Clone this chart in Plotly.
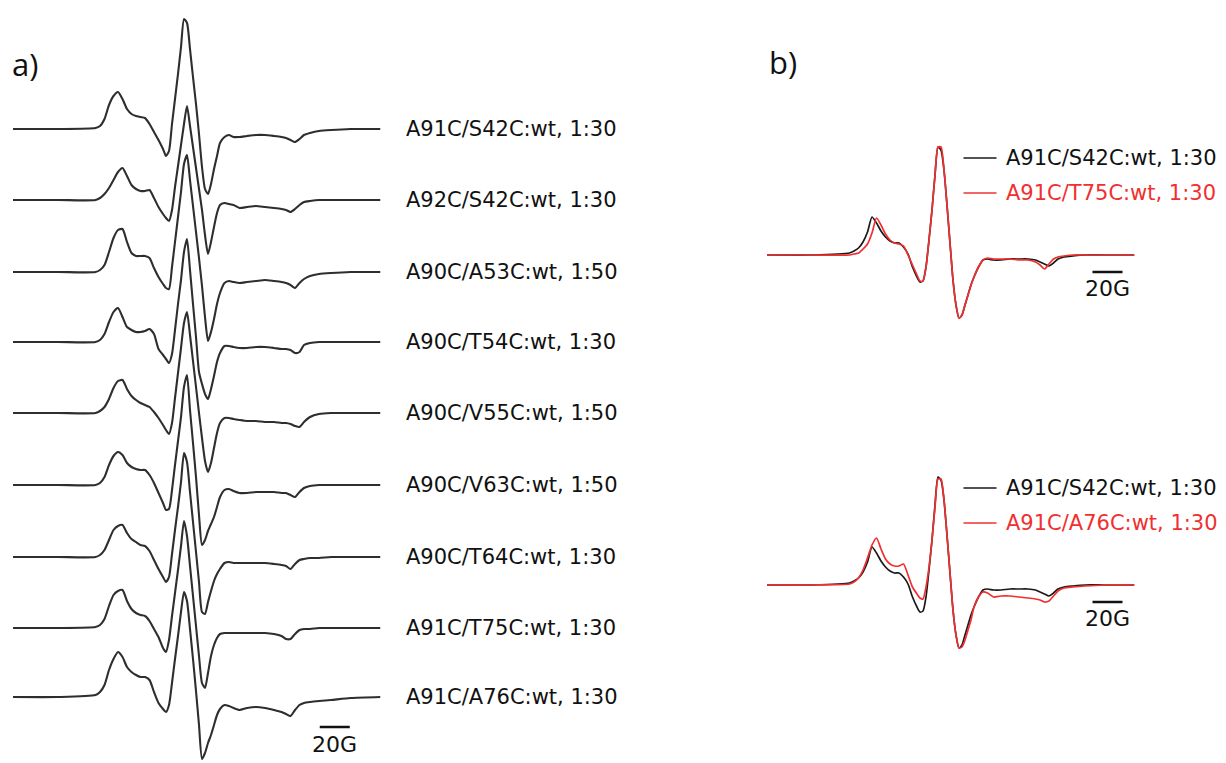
import plotly.graph_objects as go

# Magnetic field positions (G, relative) at which the spectra were read
field_G = [0, 30, 55, 58, 61, 64, 67, 70, 73, 76, 79, 82, 85, 88, 91, 94, 97, 100, 102, 104,
           106, 108, 110, 112, 114, 116, 118, 120, 122, 124, 126, 128, 130, 132, 134, 136, 138,
           141, 144, 147, 151, 156, 162, 168, 174, 179, 182, 185, 188, 191, 194, 198, 204, 212,
           225, 245]

# Panel a) spectra (arbitrary intensity units)
A91C_S42C = [0,0,1,3,10,24,33,37,30,20, 15,13,12,11,5,-3,-11,-20,-27,-22, 5,30,55,82,110,106,80,52,25,-5,
             -38,-60,-65,-55,-40,-27,-14,-8,-6,-8, -8,-7,-6,-6,-7,-8,-9,-11,-13,-10, -6,-4,-2,-1,0,0]
A92C_S42C = [0,0,0,2,6,12,20,28,32,24, 15,11,9,9,10,2,-7,-14,-18,-21, -10,13,34,55,76,94,74,53,32,11,
             -10,-35,-54,-42,-27,-13,-5,-3,-4,-5, -8,-7,-6,-7,-8,-9,-10,-12,-9,-5, -2,-1,0,0,0,0]
A90C_A53C = [0,0,0,2,7,20,34,42,43,30, 19,16,16,16,14,4,-5,-12,-16,-17, 5,30,55,80,108,117,92,66,40,14,
             -14,-45,-69,-60,-47,-32,-21,-11,-9,-10, -11,-10,-9,-8,-9,-10,-11,-13,-16,-11, -7,-4,-2,-1,0,0]
A90C_T54C = [0,0,0,2,8,20,30,34,25,15, 12,10,10,11,13,8,-7,-13,-17,-21, -12,12,38,62,90,103,72,38,5,-30,
             -42,-52,-57,-47,-34,-20,-11,-4,-4,-5, -6,-6,-5,-5,-6,-7,-7,-8,-11,-10, -3,-1,0,0,0,0]
A90C_V55C = [0,0,0,2,6,14,25,32,33,24, 17,13,10,8,6,1,-5,-12,-17,-21, -10,15,40,65,90,101,78,52,26,0,
             -25,-48,-59,-50,-35,-20,-10,-5,-5,-6, -7,-8,-8,-9,-9,-10,-10,-11,-13,-14, -9,-4,-1,0,0,0]
A90C_V63C = [0,0,0,2,8,20,29,33,30,22, 18,16,15,15,10,2,-8,-18,-25,-24, -5,20,44,68,98,110,75,42,8,-30,
             -60,-55,-46,-39,-32,-22,-12,-5,-4,-6, -8,-8,-7,-7,-7,-8,-8,-10,-12,-7, -3,-1,0,0,0,0]
A90C_T64C = [0,0,0,2,7,17,27,31,32,24, 18,15,12,11,6,-3,-12,-20,-25,-20, 3,27,50,75,104,95,65,35,5,-25,
             -55,-57,-45,-34,-24,-17,-12,-6,-5,-6, -6,-6,-6,-6,-7,-8,-9,-12,-7,-3, -2,-1,-1,0,0,0]
A91C_T75C = [0,0,1,3,9,22,33,37,38,27, 19,15,13,12,7,-1,-9,-20,-24,-12, 12,35,58,82,107,92,62,32,2,-28,
             -55,-60,-45,-28,-17,-10,-6,-5,-5,-5, -5,-5,-5,-5,-6,-8,-11,-11,-6,-2, -1,-1,0,0,0,0]
A91C_A76C = [0,0,2,5,12,27,38,45,40,30, 25,22,20,20,17,5,-6,-12,-15,-8, 14,38,61,85,105,96,68,38,6,-28,
             -62,-56,-46,-38,-28,-18,-12,-8,-9,-11, -13,-11,-10,-11,-13,-15,-17,-19,-13,-8, -6,-5,-4,-3,-1,0]

labels_a = ["A91C/S42C:wt, 1:30", "A92C/S42C:wt, 1:30", "A90C/A53C:wt, 1:50",
            "A90C/T54C:wt, 1:30", "A90C/V55C:wt, 1:50", "A90C/V63C:wt, 1:50",
            "A90C/T64C:wt, 1:30", "A91C/T75C:wt, 1:30", "A91C/A76C:wt, 1:30"]

# Panel b) overlays
b_S42C = [0,0,2,4,7,13,23,38,32,24, 18,14,12,12,8,1,-12,-22,-27,-26, -12,15,45,80,108,105,85,50,12,-25,
          -50,-63,-60,-50,-40,-30,-22,-12,-5,-4, -5,-5,-4,-4,-4,-5,-7,-9,-11,-8, -4,-2,-1,0,0,0]
b_T75C = [0,0,0,1,2,6,11,22,37,30, 21,15,12,11,9,0,-10,-20,-26,-26, -12,15,45,80,108,108,85,50,12,-25,
          -50,-63,-60,-50,-40,-30,-22,-12,-5,-3, -4,-4,-4,-5,-5,-7,-10,-14,-9,-4, -2,-1,0,0,0,0]
b_A76C = [0,0,1,3,7,15,27,40,47,36, 26,21,19,19,21,10,-2,-9,-13,-14, -2,18,45,78,106,106,85,50,12,-25,
          -50,-63,-62,-55,-45,-35,-22,-12,-7,-8, -12,-11,-11,-12,-13,-14,-15,-17,-16,-11, -6,-3,-2,-1,0,0]
labels_b = [("A91C/S42C:wt, 1:30", "A91C/T75C:wt, 1:30"),
            ("A91C/S42C:wt, 1:30", "A91C/A76C:wt, 1:30")]

# ---- layout parameters (stack offsets, in the y units of the stacked plot) ----
W, H = 1226, 763
offsets_a = [129, 200, 272, 342, 413, 485, 557, 628, 697]
offsets_b = [255, 585]
gray = "#2e2e2e"
black = "#1a1a1a"
red = "#f03030"
font_lbl = "DejaVu Sans"
lbl_size = 21

fig = go.Figure()
spectra_a = [A91C_S42C, A92C_S42C, A90C_A53C, A90C_T54C, A90C_V55C,
             A90C_V63C, A90C_T64C, A91C_T75C, A91C_A76C]
for vals, off in zip(spectra_a, offsets_a):
    fig.add_trace(go.Scatter(x=field_G, y=[v - off for v in vals], mode="lines",
                             line=dict(color=gray, width=2.1, shape="spline", smoothing=0.6),
                             xaxis="x", yaxis="y", showlegend=False, hoverinfo="skip"))

pairs_b = [(b_S42C, b_T75C), (b_S42C, b_A76C)]
for (blk, rd), off in zip(pairs_b, offsets_b):
    fig.add_trace(go.Scatter(x=field_G, y=[v - off for v in blk], mode="lines",
                             line=dict(color=black, width=1.7, shape="spline", smoothing=0.6),
                             xaxis="x2", yaxis="y", showlegend=False, hoverinfo="skip"))
    fig.add_trace(go.Scatter(x=field_G, y=[v - off for v in rd], mode="lines",
                             line=dict(color=red, width=1.7, shape="spline", smoothing=0.6),
                             xaxis="x2", yaxis="y", showlegend=False, hoverinfo="skip"))

ann = []
shapes = []
# panel a labels
for lab, off in zip(labels_a, offsets_a):
    ann.append(dict(text=lab, xref="paper", x=404 / W, xanchor="left", yref="y", y=-off,
                    yanchor="middle", showarrow=False,
                    font=dict(family=font_lbl, size=lbl_size, color="#111111")))
# panel a scale bar
shapes.append(dict(type="line", xref="x", yref="y", x0=204.5, x1=224.5, y0=-727, y1=-727,
                   line=dict(color="#111111", width=2.5)))
ann.append(dict(text="20G", xref="x", x=214.5, yref="y", y=-744, showarrow=False,
                xanchor="center", yanchor="middle",
                font=dict(family=font_lbl, size=22, color="#111111")))

# panel b legends and scale bars
for (l1, l2), off in zip(labels_b, offsets_b):
    yb, yr = off - 97, off - 62
    shapes.append(dict(type="line", xref="x2", yref="y", x0=131, x1=153, y0=-yb, y1=-yb,
                       line=dict(color=black, width=1.5)))
    shapes.append(dict(type="line", xref="x2", yref="y", x0=131, x1=153, y0=-yr, y1=-yr,
                       line=dict(color=red, width=1.5)))
    ann.append(dict(text=l1, xref="paper", x=1004 / W, xanchor="left", yref="y", y=-yb,
                    yanchor="middle", showarrow=False,
                    font=dict(family=font_lbl, size=lbl_size, color="#111111")))
    ann.append(dict(text=l2, xref="paper", x=1004 / W, xanchor="left", yref="y", y=-yr,
                    yanchor="middle", showarrow=False,
                    font=dict(family=font_lbl, size=lbl_size, color=red)))
    shapes.append(dict(type="line", xref="x2", yref="y", x0=217, x1=237, y0=-(off + 17),
                       y1=-(off + 17), line=dict(color="#111111", width=2.5)))
    ann.append(dict(text="20G", xref="x2", x=227, yref="y", y=-(off + 33), showarrow=False,
                    xanchor="center", yanchor="middle",
                    font=dict(family=font_lbl, size=22, color="#111111")))

# panel letters
ann.append(dict(text="a)", xref="paper", x=10 / W, xanchor="left", yref="y", y=-64,
                yanchor="middle", showarrow=False,
                font=dict(family="Open Sans", size=31, color="#111111")))
ann.append(dict(text="b)", xref="paper", x=767 / W, xanchor="left", yref="y", y=-62,
                yanchor="middle", showarrow=False,
                font=dict(family="Open Sans", size=31, color="#111111")))

axis_off = dict(visible=False, showgrid=False, zeroline=False, fixedrange=True)
fig.update_layout(
    width=W, height=H, margin=dict(l=0, r=0, t=0, b=0),
    paper_bgcolor="white", plot_bgcolor="white",
    xaxis=dict(domain=[13 / W, 380.5 / W], range=[0, 245], anchor="y", **axis_off),
    xaxis2=dict(domain=[767 / W, 1134.5 / W], range=[0, 245], anchor="y", **axis_off),
    yaxis=dict(domain=[0, 1], range=[-H, 0], **axis_off),
    annotations=ann, shapes=shapes, showlegend=False,
)

fig.write_html("out.html", config={"displayModeBar": False},
               post_script="document.body.style.margin='0';document.body.style.overflow='hidden';")
